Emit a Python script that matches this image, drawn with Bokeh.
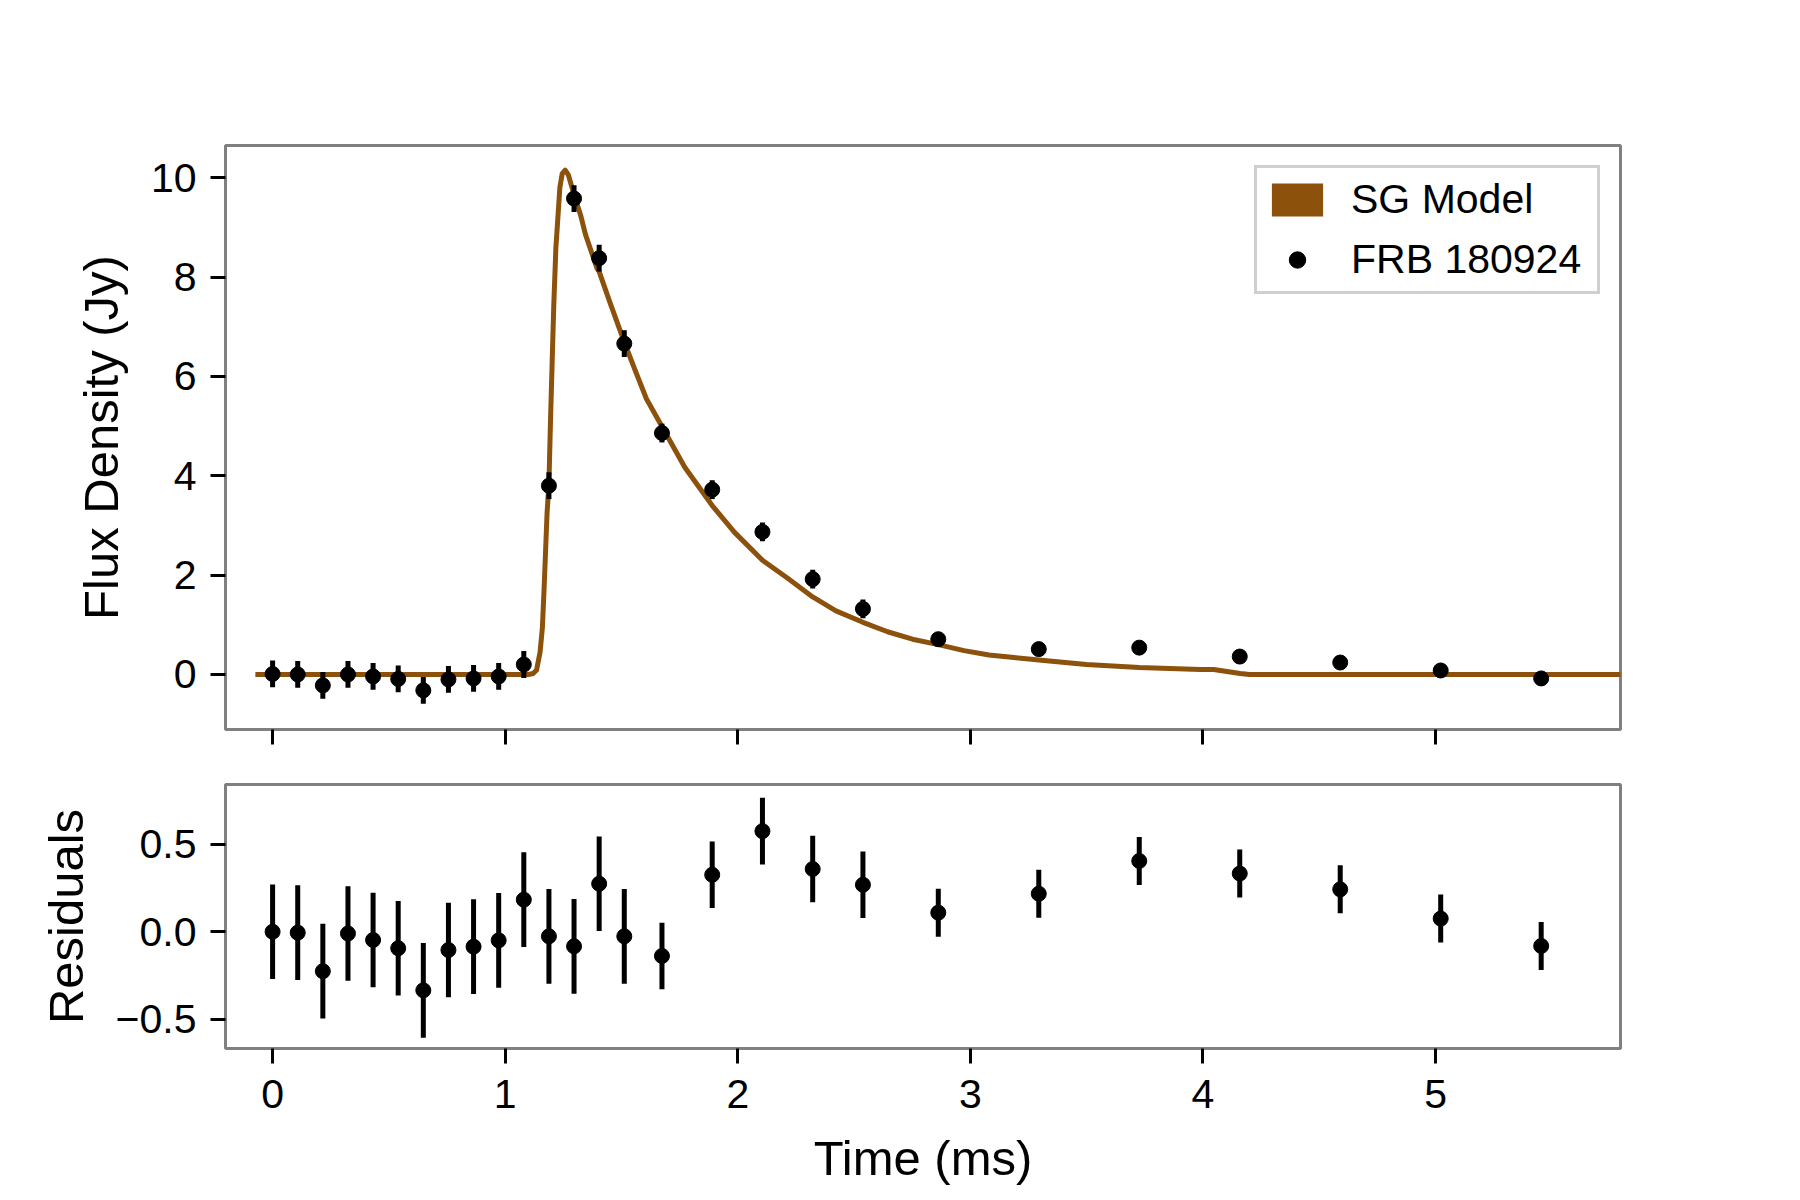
from bokeh.plotting import figure
from bokeh.layouts import column
from bokeh.models import FixedTicker, Range1d, Legend, LegendItem
from bokeh.embed import file_html
from bokeh.resources import INLINE

# ---------------- data ----------------
time_ms = [0.000, 0.108, 0.216, 0.324, 0.432, 0.540, 0.648, 0.756, 0.864, 0.972,
           1.080, 1.188, 1.296, 1.404, 1.512, 1.674, 1.890, 2.106, 2.322, 2.538,
           2.862, 3.294, 3.726, 4.158, 4.590, 5.022, 5.454]
flux_jy = [0.01, 0.00, -0.22, 0.00, -0.04, -0.09, -0.32, -0.10, -0.08, -0.04,
           0.20, 3.80, 9.58, 8.38, 6.66, 4.86, 3.72, 2.87, 1.92, 1.32,
           0.71, 0.51, 0.54, 0.36, 0.24, 0.08, -0.08]
flux_err = [0.27, 0.27, 0.27, 0.27, 0.27, 0.27, 0.27, 0.27, 0.27, 0.27,
            0.27, 0.27, 0.27, 0.27, 0.27, 0.19, 0.19, 0.19, 0.19, 0.19,
            0.137, 0.137, 0.137, 0.137, 0.137, 0.137, 0.137]
residuals = [0.000, -0.005, -0.225, -0.010, -0.047, -0.094, -0.334, -0.104, -0.085, -0.049,
             0.183, -0.026, -0.083, 0.274, -0.026, -0.138, 0.325, 0.574, 0.358, 0.268,
             0.109, 0.217, 0.404, 0.332, 0.242, 0.075, -0.081]

model_time = [-0.074, 1.100, 1.120, 1.135, 1.150, 1.160, 1.167, 1.180, 1.188, 1.195,
              1.202, 1.209, 1.218, 1.228, 1.235, 1.245, 1.258, 1.272, 1.296, 1.324,
              1.345, 1.395, 1.404, 1.451, 1.512, 1.558, 1.607, 1.674, 1.772, 1.890,
              1.986, 2.106, 2.216, 2.322, 2.422, 2.538, 2.644, 2.751, 2.862, 2.973,
              3.080, 3.187, 3.294, 3.499, 3.726, 3.989, 4.046, 4.160, 4.200, 5.900]
model_flux = [0.00, 0.00, 0.02, 0.09, 0.45, 0.95, 1.70, 3.25, 3.83, 5.15,
              6.30, 7.45, 8.60, 9.30, 9.80, 10.08, 10.15, 10.05, 9.66, 9.25,
              8.86, 8.17, 8.11, 7.48, 6.69, 6.13, 5.55, 4.99, 4.17, 3.40,
              2.86, 2.30, 1.93, 1.56, 1.28, 1.05, 0.86, 0.71, 0.60, 0.48,
              0.39, 0.34, 0.29, 0.20, 0.14, 0.10, 0.10, 0.02, 0.00, 0.00]

x_ticks = [0, 1, 2, 3, 4, 5]
flux_ticks = [0, 2, 4, 6, 8, 10]
resid_ticks = [-0.5, 0.0, 0.5]
resid_tick_labels = ["\u22120.5", "0.0", "0.5"]

MODEL_COLOR = "#8c510a"
FRAME_COLOR = "#808080"
FONT = "Liberation Sans"
NAN = float("nan")

flux_lo = [f - e for f, e in zip(flux_jy, flux_err)]
flux_hi = [f + e for f, e in zip(flux_jy, flux_err)]
res_lo = [r - e for r, e in zip(residuals, flux_err)]
res_hi = [r + e for r, e in zip(residuals, flux_err)]


def style(p):
    p.xgrid.visible = False
    p.ygrid.visible = False
    p.outline_line_color = FRAME_COLOR
    p.outline_line_width = 3
    p.background_fill_color = "white"
    p.border_fill_color = "white"
    for ax in (p.xaxis[0], p.yaxis[0]):
        ax.axis_line_color = None
        ax.major_tick_out = 15
        ax.major_tick_in = 0
        ax.major_tick_line_width = 3
        ax.major_tick_line_color = "black"
        ax.minor_tick_line_color = None
        ax.major_label_text_font = FONT
        ax.major_label_text_font_size = "41px"
        ax.major_label_text_color = "black"
        ax.axis_label_text_font = FONT
        ax.axis_label_text_font_size = "49px"
        ax.axis_label_text_font_style = "normal"
        ax.axis_label_text_color = "black"
        ax.major_label_standoff = 14
        ax.axis_label_standoff = 20


x_range = Range1d(-0.2025, 5.795)

p1 = figure(width=1770, height=782, x_range=x_range, y_range=Range1d(-1.108, 10.648),
            output_backend="svg", toolbar_location=None,
            min_border_left=225, min_border_right=150, min_border_top=145, min_border_bottom=53)
style(p1)
p1.xaxis.ticker = FixedTicker(ticks=x_ticks)
p1.xaxis.major_label_text_font_size = "0px"
p1.xaxis.major_label_text_color = None
p1.xaxis.major_label_standoff = 0
p1.yaxis.ticker = FixedTicker(ticks=flux_ticks)
p1.yaxis.axis_label = "Flux Density (Jy)"

p1.line(model_time, model_flux, line_width=5, line_color=MODEL_COLOR, line_join="round")
patch_r = p1.quad(left=[NAN], right=[NAN], top=[NAN], bottom=[NAN],
                  fill_color=MODEL_COLOR, line_color=None)
p1.segment(x0=time_ms, y0=flux_lo, x1=time_ms, y1=flux_hi, line_width=5, line_color="black")
dots1 = p1.scatter(time_ms, flux_jy, size=15, fill_color="black", line_color="black")

legend = Legend(items=[LegendItem(label="SG Model", renderers=[patch_r]),
                       LegendItem(label="FRB 180924", renderers=[dots1])],
                location="top_right", margin=20, padding=8, spacing=13,
                glyph_width=64, glyph_height=41, label_standoff=22, label_width=238,
                label_text_font=FONT, label_text_font_size="41px",
                label_text_color="black",
                border_line_color="#a0a0a0", border_line_width=3,
                background_fill_color="white", background_fill_alpha=1.0)
p1.add_layout(legend)

p2 = figure(width=1770, height=418, x_range=x_range, y_range=Range1d(-0.666, 0.84),
            output_backend="svg", toolbar_location=None,
            min_border_left=225, min_border_right=150, min_border_top=2, min_border_bottom=152)
style(p2)
p2.xaxis.ticker = FixedTicker(ticks=x_ticks)
p2.yaxis.ticker = FixedTicker(ticks=resid_ticks)
p2.yaxis.major_label_overrides = {t: s for t, s in zip(resid_ticks, resid_tick_labels)}
p2.xaxis.axis_label = "Time (ms)"
p2.yaxis.axis_label = "Residuals"
p2.xaxis.major_label_standoff = 16
p2.xaxis.axis_label_standoff = 20

p2.segment(x0=time_ms, y0=res_lo, x1=time_ms, y1=res_hi, line_width=5, line_color="black")
p2.scatter(time_ms, residuals, size=15, fill_color="black", line_color="black")

layout = column(p1, p2, spacing=0)
open("out.html", "w").write(file_html(layout, INLINE))
